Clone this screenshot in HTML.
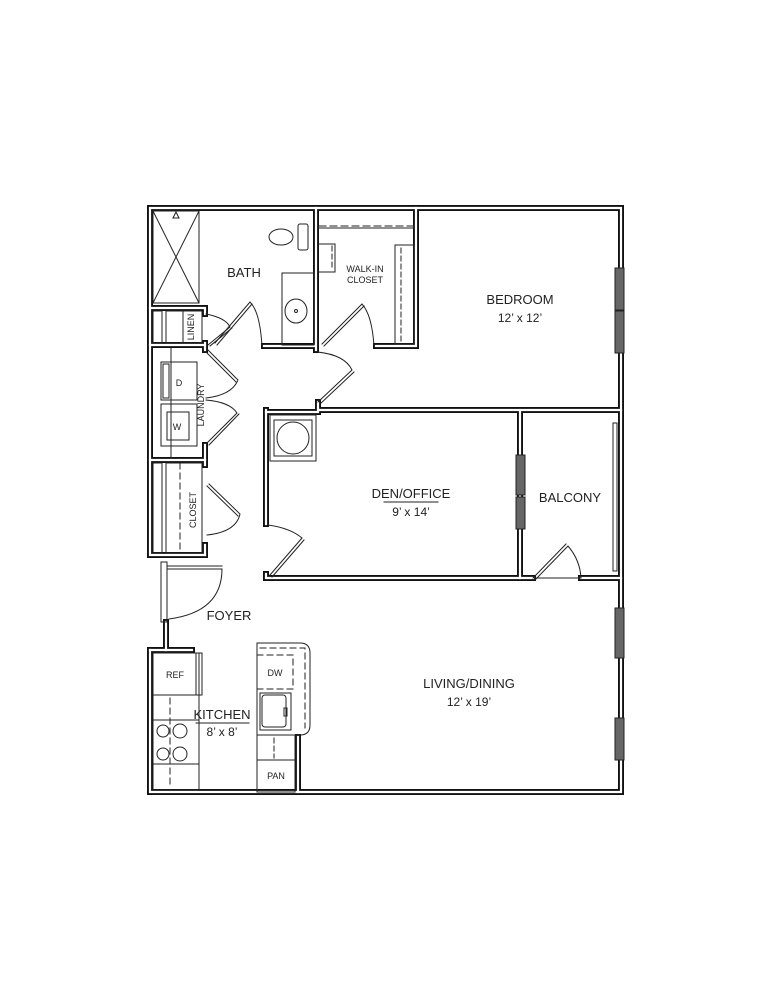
<!DOCTYPE html>
<html><head><meta charset="utf-8"><style>
html,body{margin:0;padding:0;background:#fff;}
svg{display:block;}
text{font-family:"Liberation Sans",sans-serif;fill:#222;}
</style></head><body>
<svg width="772" height="1000" viewBox="0 0 772 1000" xmlns="http://www.w3.org/2000/svg">
<g fill="none" stroke-linejoin="miter" stroke-linecap="square">
<g id="walls" stroke="#111" stroke-width="6">
<path d="M166,622 L166,650 M150,650 L150,792 L621,792 L621,208 L150,208 L150,555 L205,555"/>
<path d="M150,650 L192,650"/>
<path d="M205,310 L205,314 M205,343 L205,350 M205,445 L205,465 M205,545 L205,555"/>
<path d="M150,345 L205,345 M150,460 L205,460 M150,308 L205,308"/>
<path d="M316,208 L316,350 M264,346 L316,346 M376,346 L416,346 M416,208 L416,346"/>
<path d="M318,402 L318,410 L621,410"/>
<path d="M266,410 L266,524 M266,574 L266,578 L520,578 L520,412"/>
<path d="M520,578 L533,578 M581,578 L621,578"/>
<path d="M266,412 L318,412"/>
<path d="M298,737 L298,792"/>
</g>
<g stroke="#fff" stroke-width="2.2">
<path d="M166,622 L166,650 M150,650 L150,792 L621,792 L621,208 L150,208 L150,555 L205,555"/>
<path d="M150,650 L192,650"/>
<path d="M205,310 L205,314 M205,343 L205,350 M205,445 L205,465 M205,545 L205,555"/>
<path d="M150,345 L205,345 M150,460 L205,460 M150,308 L205,308"/>
<path d="M316,208 L316,350 M264,346 L316,346 M376,346 L416,346 M416,208 L416,346"/>
<path d="M318,402 L318,410 L621,410"/>
<path d="M266,410 L266,524 M266,574 L266,578 L520,578 L520,412"/>
<path d="M520,578 L533,578 M581,578 L621,578"/>
<path d="M266,412 L318,412"/>
<path d="M298,737 L298,792"/>
</g>
<g fill="#666" stroke="#222" stroke-width="1">
<rect x="615" y="268" width="9" height="42"/><rect x="615" y="311" width="9" height="42"/>
<rect x="615" y="608" width="9" height="50"/><rect x="615" y="718" width="9" height="42"/>
<rect x="516" y="455" width="9" height="40"/><rect x="516" y="497" width="9" height="32"/>
</g>
<rect x="613" y="423" width="4" height="148" stroke="#222" stroke-width="1"/>
<g stroke="#222" stroke-width="1">
<rect x="153" y="211" width="46" height="92"/>
<path d="M153,211 L199,303 M199,211 L153,303"/>
<path d="M173,218 L176,212 L179,218 Z"/>
<rect x="153" y="311" width="9" height="32"/>
<rect x="166" y="311" width="36" height="32"/><line x1="183" y1="311" x2="183" y2="343"/>
<rect x="153" y="463" width="9" height="90"/>
<rect x="166" y="463" width="36" height="90"/>
<line x1="180" y1="463" x2="180" y2="553" stroke-dasharray="6,4"/>
<line x1="171" y1="348" x2="171" y2="458"/>
<rect x="161" y="362" width="36" height="38"/><rect x="163" y="364" width="6" height="34"/>
<rect x="161" y="404" width="36" height="42"/><rect x="167" y="412" width="22" height="28"/>
<ellipse cx="281" cy="237" rx="12" ry="8"/>
<rect x="298" y="224" width="10" height="26" rx="2"/>
<rect x="282" y="273" width="32" height="72"/>
<ellipse cx="296" cy="311" rx="11" ry="12"/><circle cx="296" cy="311" r="1.5"/>
<line x1="319" y1="226" x2="414" y2="226" stroke-dasharray="7,4"/>
<line x1="319" y1="228" x2="414" y2="228"/>
<path d="M319,244 L335,244 L335,272 L319,272"/>
<line x1="332" y1="246" x2="332" y2="270" stroke-dasharray="5,3"/>
<rect x="395" y="245" width="19" height="99"/>
<line x1="401" y1="248" x2="401" y2="342" stroke-dasharray="5,3"/>
<rect x="270" y="415" width="46" height="46"/><rect x="274" y="420" width="38" height="36"/>
<circle cx="293" cy="438" r="16"/>
<rect x="153" y="653" width="46" height="42"/><rect x="196" y="653" width="6" height="42"/>
<rect x="153" y="695" width="46" height="95"/>
<line x1="153" y1="720" x2="199" y2="720"/><line x1="153" y1="764" x2="199" y2="764"/>
<line x1="170" y1="698" x2="170" y2="788" stroke-dasharray="6,4"/>
<circle cx="163" cy="731" r="6"/><circle cx="180" cy="731" r="7"/>
<circle cx="163" cy="754" r="6"/><circle cx="180" cy="754" r="7"/>
<path d="M257,643 L300,643 Q310,643 310,653 L310,725 Q310,735 300,735 L257,735 Z"/>
<path d="M260,648 L305,648 L305,728" stroke-dasharray="6,4"/>
<rect x="257" y="655" width="36" height="34" stroke-dasharray="6,4"/>
<rect x="260" y="693" width="31" height="37"/><rect x="262" y="695" width="24" height="32" rx="3"/>
<rect x="284" y="708" width="3" height="8"/>
<rect x="257" y="735" width="38" height="57"/>
<line x1="257" y1="760" x2="295" y2="760"/>
<line x1="274" y1="738" x2="274" y2="758" stroke-dasharray="5,3"/>
<g stroke-width="1">
<path d="M206,314 Q226,318 230,327 L208,345 M232,328 L210,346"/>
<path d="M262,346 Q260,312 250,302 L215,343 M252,304 L217,345"/>
<path d="M374,346 Q372,315 362,304 L322,344 M364,306 L324,346"/>
<path d="M318,352 Q345,355 352,370 L318,402 M354,372 L320,404"/>
<path d="M206,352 L236,382 M208,350 L238,380 Q232,395 206,398"/>
<path d="M206,400 Q230,402 237,413 L207,443 M239,414 L209,445"/>
<path d="M207,486 L238,516 M209,484 L240,514 Q236,532 207,535"/>
<path d="M268,525 Q290,528 302,538 L270,575 M304,540 L272,577"/>
<rect x="161" y="562" width="6" height="60"/>
<path d="M168,566 L222,566 M168,569 L222,569 Q222,612 169,619"/>
<path d="M533,578 L566,544 M535,580 L568,546 Q580,560 581,578 L535,578"/>
</g>
</g>
<g font-size="13" text-anchor="middle">
<text x="244" y="277">BATH</text>
<text x="520" y="304">BEDROOM</text>
<text x="520" y="322" font-size="12">12’ x 12’</text>
<text x="411" y="498">DEN/OFFICE</text>
<text x="411" y="516" font-size="12">9’ x 14’</text>
<text x="570" y="502">BALCONY</text>
<text x="229" y="620">FOYER</text>
<text x="469" y="688">LIVING/DINING</text>
<text x="469" y="706" font-size="12">12’ x 19’</text>
<text x="222" y="719">KITCHEN</text>
<text x="222" y="736" font-size="12">8’ x 8’</text>
</g>
<g stroke="#222" stroke-width="1">
<line x1="384" y1="502" x2="438" y2="502"/>
<line x1="196" y1="723" x2="249" y2="723"/>
</g>
<g font-size="9" text-anchor="middle">
<text x="365" y="272">WALK-IN</text><text x="365" y="283">CLOSET</text>
<text x="175" y="678">REF</text><text x="275" y="676">DW</text><text x="276" y="779">PAN</text>
<text x="179" y="386">D</text><text x="177" y="430">W</text>
<text transform="translate(194,327) rotate(-90)">LINEN</text>
<text transform="translate(204,405) rotate(-90)">LAUNDRY</text>
<text transform="translate(196,510) rotate(-90)">CLOSET</text>
</g>
</svg>
</body></html>
